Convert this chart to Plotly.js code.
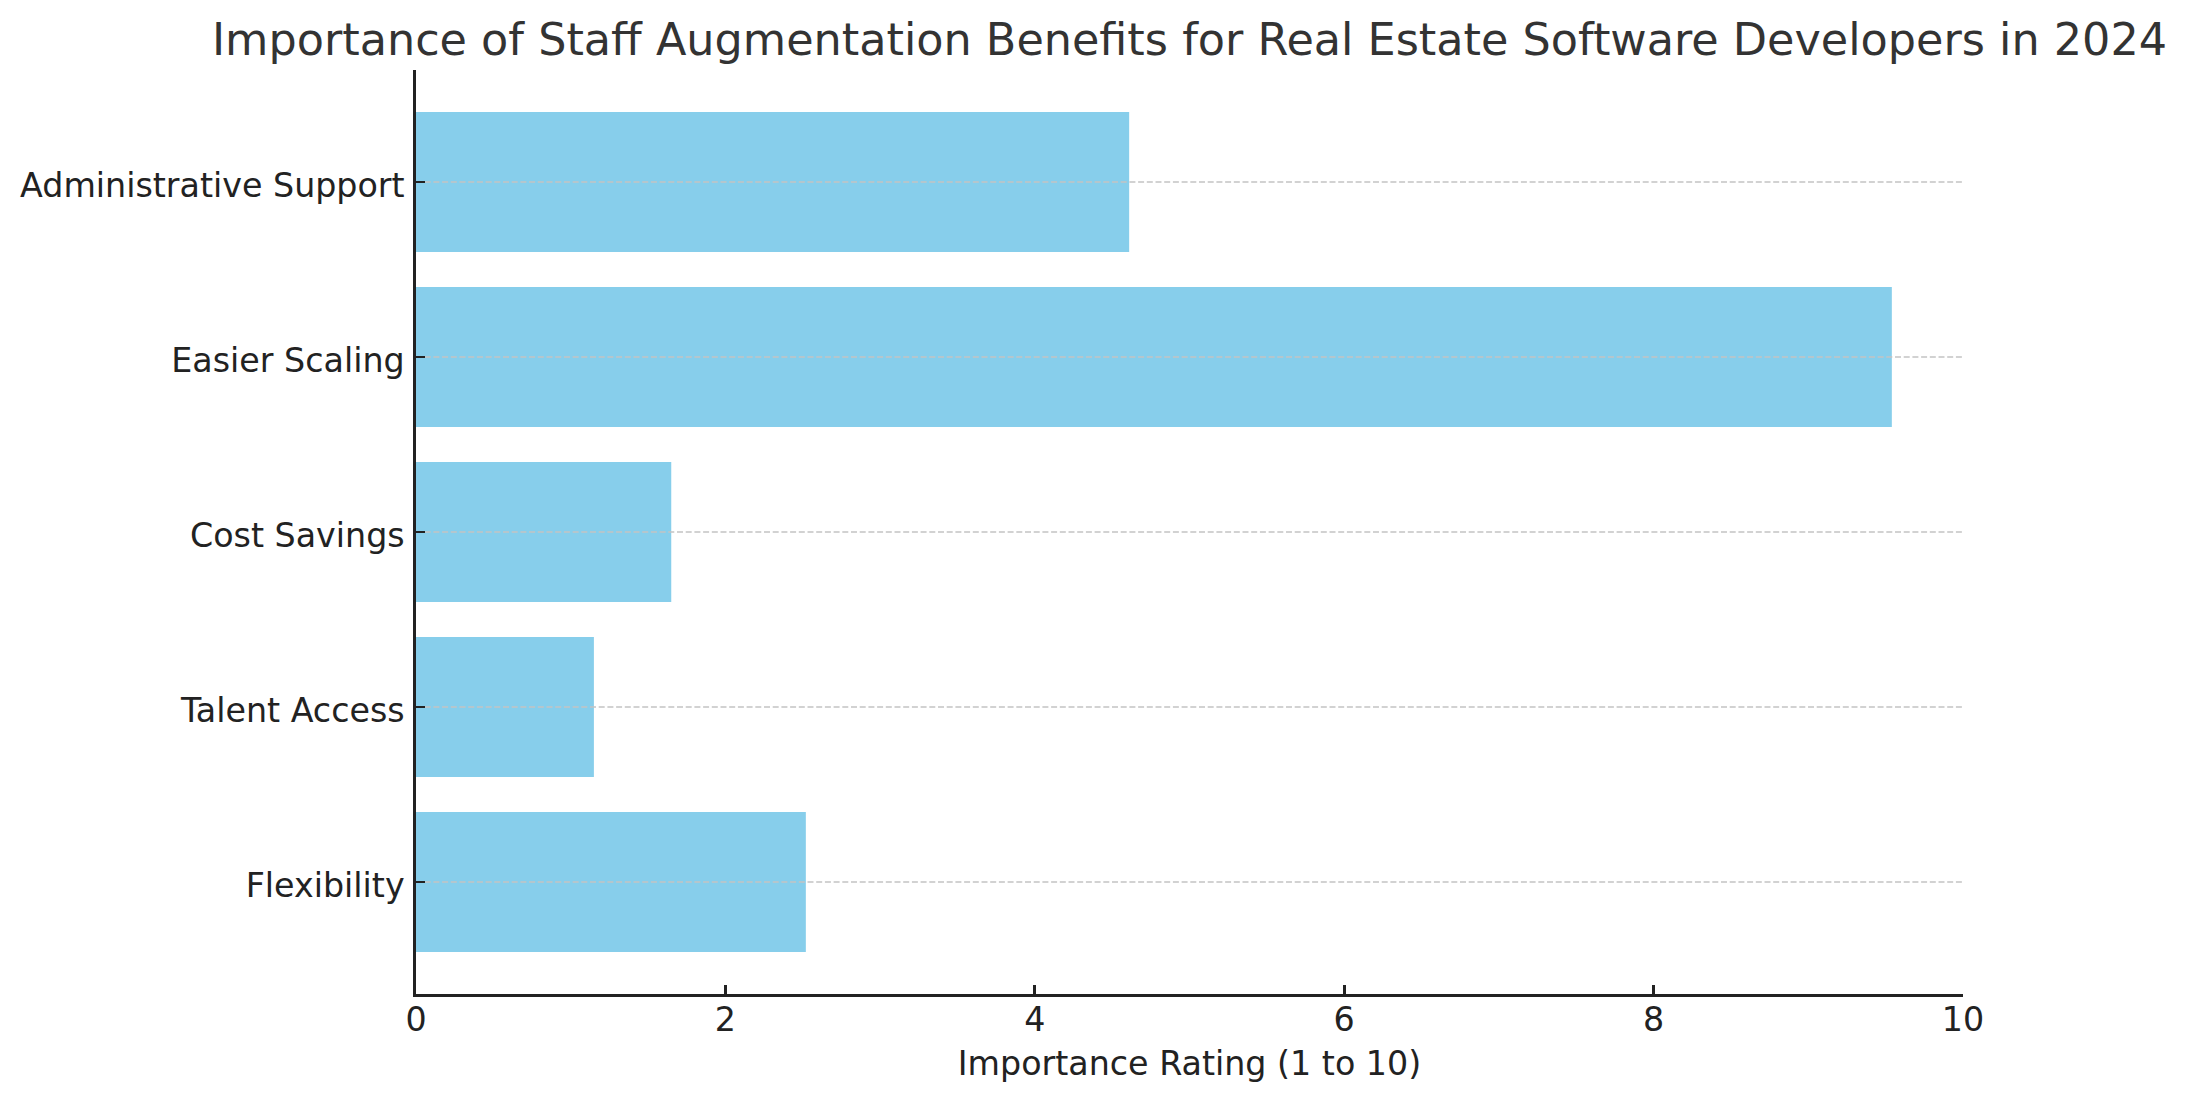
<!DOCTYPE html>
<html>
<head>
<meta charset="utf-8">
<script src="https://cdn.plot.ly/plotly-3.0.1.min.js"></script>
<style>
  html, body { margin: 0; padding: 0; background: #ffffff; }
  #chart { width: 2188px; height: 1101px; }
</style>
</head>
<body>
<div id="chart"></div>
<script>
// Data (bottom to top on the chart)
const categories = ["Flexibility", "Talent Access", "Cost Savings", "Easier Scaling", "Administrative Support"];
const ratings = [2.52, 1.15, 1.65, 9.54, 4.61];
const xTickValues = [0, 2, 4, 6, 8, 10];

const FONT = "DejaVu Sans, sans-serif";

const bars = {
  type: "bar",
  orientation: "h",
  y: categories,
  x: ratings,
  width: 0.8,
  marker: { color: "#87CEEB", line: { width: 0 } },
  hoverinfo: "x+y",
  showlegend: false
};

// Dashed grid lines drawn on top of the bars at each category
const gridX = [];
const gridY = [];
categories.forEach(c => {
  gridX.push(xTickValues[0], xTickValues[xTickValues.length - 1], null);
  gridY.push(c, c, null);
});
const grid = {
  type: "scatter",
  mode: "lines",
  x: gridX,
  y: gridY,
  line: { color: "#c4c4c4", width: 1.7, dash: "6px,2.7px" },
  hoverinfo: "skip",
  showlegend: false
};

const layout = {
  width: 2188,
  height: 1101,
  margin: { l: 416, r: 225, t: 70, b: 107 },
  paper_bgcolor: "#ffffff",
  plot_bgcolor: "#ffffff",
  font: { family: FONT, color: "#222222", size: 33 },
  title: {
    text: "Importance of Staff Augmentation Benefits for Real Estate Software Developers in 2024",
    font: { family: FONT, size: 44.5, color: "#333333" },
    x: 0.5,
    xref: "paper",
    xanchor: "center",
    y: 1 - 39.5 / 1101,
    yref: "container",
    yanchor: "middle"
  },
  xaxis: {
    range: [0, 10],
    tickvals: xTickValues,
    ticktext: xTickValues.map(String),
    ticks: "inside",
    ticklen: 9,
    tickwidth: 2.7,
    tickcolor: "#222222",
    showline: true,
    linecolor: "#222222",
    linewidth: 2.7,
    showgrid: false,
    zeroline: false,
    tickfont: { family: FONT, size: 33.3, color: "#222222" },
    ticklabelstandoff: -6,
    title: {
      text: "Importance Rating (1 to 10)",
      font: { family: FONT, size: 33.3, color: "#222222" },
      standoff: 14
    },
    layer: "above traces"
  },
  yaxis: {
    type: "category",
    categoryorder: "array",
    categoryarray: categories,
    range: [-0.64, 4.64],
    ticks: "inside",
    ticklen: 9,
    tickwidth: 2.7,
    tickcolor: "#222222",
    showline: true,
    linecolor: "#222222",
    linewidth: 2.7,
    showgrid: false,
    zeroline: false,
    tickfont: { family: FONT, size: 33.3, color: "#222222" },
    ticklabelstandoff: 2,
    ticklabelshift: 3,
    layer: "above traces"
  }
};

Plotly.newPlot("chart", [bars, grid], layout, { staticPlot: true, displayModeBar: false });
</script>
</body>
</html>
